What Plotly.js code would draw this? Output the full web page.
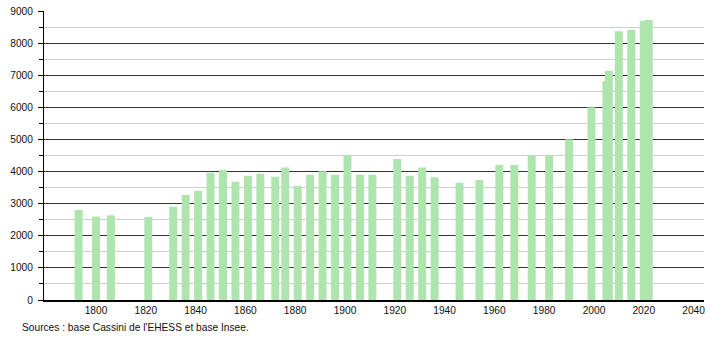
<!DOCTYPE html>
<html>
<head>
<meta charset="utf-8">
<script src="https://cdn.plot.ly/plotly-3.0.1.min.js"></script>
<style>html,body{margin:0;padding:0;background:#fff;}#chart{width:710px;height:340px;}</style>
</head>
<body>
<div id="chart"></div>
<script>
const years = [1793,1800,1806,1821,1831,1836,1841,1846,1851,1856,1861,1866,1872,1876,1881,1886,1891,1896,1901,1906,1911,1921,1926,1931,1936,1946,1954,1962,1968,1975,1982,1990,1999,2005,2006,2010,2015,2020,2022];
const population = [2800,2595,2637,2585,2906,3270,3405,3966,4048,3685,3872,3934,3841,4130,3560,3903,4007,3903,4515,3903,3903,4390,3872,4130,3820,3653,3737,4204,4204,4505,4505,5003,6000,6820,7140,8370,8408,8690,8720];
const xTicks = [1800,1820,1840,1860,1880,1900,1920,1940,1960,1980,2000,2020,2040];
const yTicks = [0,1000,2000,3000,4000,5000,6000,7000,8000,9000];
const sourceText = "Sources : base Cassini de l'EHESS et base Insee.";

const trace = {
  type: 'bar',
  x: years,
  y: population,
  width: 3.2,
  marker: {color: 'rgb(174,228,174)', line: {width: 0}},
  hoverinfo: 'x+y'
};

const fontFam = 'Liberation Sans, Arial, sans-serif';
const layout = {
  width: 710, height: 340,
  margin: {l: 44, r: 6, t: 11, b: 40, pad: 0},
  paper_bgcolor: '#fff', plot_bgcolor: '#fff',
  barmode: 'overlay',
  showlegend: false,
  font: {family: fontFam, size: 10.2, color: '#111'},
  xaxis: {
    range: [1779.1, 2044.2],
    tickvals: xTicks,
    ticktext: xTicks.map(String),
    showgrid: false, zeroline: false,
    showline: true, linecolor: '#000', linewidth: 1.5,
    ticks: '', ticklabelstandoff: 0
  },
  yaxis: {
    range: [0, 9000],
    tickvals: yTicks,
    ticktext: yTicks.map(String),
    showgrid: true, gridcolor: '#333', gridwidth: 1,
    zeroline: false,
    showline: true, linecolor: '#000', linewidth: 1,
    ticks: 'outside', ticklen: 5, tickcolor: '#000',
    ticklabelstandoff: 3,
    minor: {dtick: 500, tick0: 0, ticks: 'outside', ticklen: 4, tickcolor: '#000', showgrid: true, gridcolor: '#d0d0d0', gridwidth: 1}
  },
  annotations: [{
    text: sourceText,
    xref: 'paper', yref: 'paper',
    x: (20 - 44) / 660, xanchor: 'left',
    y: -(327 - 300) / 289, yanchor: 'middle',
    showarrow: false,
    font: {family: fontFam, size: 10.2, color: '#111'}
  }]
};

Plotly.newPlot('chart', [trace], layout, {displayModeBar: false, staticPlot: true});
</script>
</body>
</html>
